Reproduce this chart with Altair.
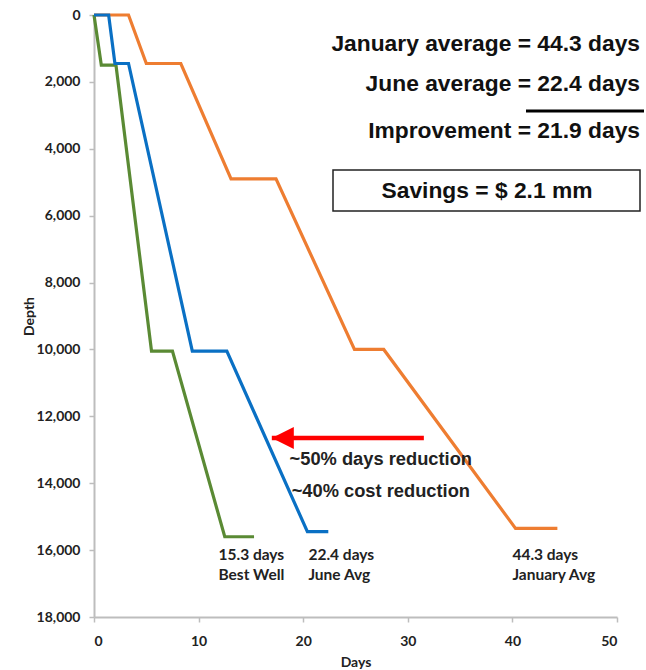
import altair as alt
import pandas as pd

# Drilling curves: days on the well vs. measured depth (ft)
jan_days = [0, 3.3, 5.0, 8.3, 13.1, 17.4, 24.9, 27.7, 40.3, 44.3]
jan_depth = [0, 0, 1450, 1450, 4900, 4900, 10000, 10000, 15350, 15350]

june_days = [0, 1.4, 2.0, 3.3, 9.4, 12.7, 20.4, 22.4]
june_depth = [0, 0, 1450, 1450, 10050, 10050, 15450, 15450]

best_days = [0, 0.7, 2.1, 5.5, 7.5, 12.5, 15.3]
best_depth = [0, 1500, 1500, 10050, 10050, 15600, 15600]

series_names = ["January Avg", "June Avg", "Best Well"]
series_colors = ["#EE7D31", "#0A70C4", "#5A8A34"]

y_ticks = list(range(0, 18001, 2000))
x_ticks = list(range(0, 51, 10))

# Reduction arrow (days, depth)
arrow_from, arrow_to, arrow_depth = 32.3, 17.0, 12650

# Summary lines shown in the upper right
summary_lines = ["January average = 44.3 days", "June average = 22.4 days",
                 "Improvement = 21.9 days"]
savings_line = "Savings = $ 2.1 mm"

W, H = 523, 602
ARIAL = "Liberation Sans"
CAL = "Lato"


def series_frame(name, days, depth):
    return pd.DataFrame({"well": name, "days": days, "depth": depth,
                         "idx": range(len(days))})


frames = {
    "January Avg": series_frame("January Avg", jan_days, jan_depth),
    "June Avg": series_frame("June Avg", june_days, june_depth),
    "Best Well": series_frame("Best Well", best_days, best_depth),
}

x_scale = alt.Scale(domain=[0, 50], nice=False)
y_scale = alt.Scale(domain=[0, 18000], reverse=True, nice=False)
color_scale = alt.Scale(domain=series_names, range=series_colors)

x_axis = alt.Axis(values=x_ticks, title="Days", grid=False,
                  labelExpr="format(datum.value, 'd')",
                  domainColor="#BDBDBD", domainWidth=2, tickColor="#BDBDBD",
                  tickWidth=1.5, tickSize=5, labelPadding=12,
                  labelFont=CAL, labelFontWeight="bold", labelFontSize=14,
                  labelColor="#222", titleFont=CAL, titleFontWeight="bold",
                  titleFontSize=14, titleColor="#222", titlePadding=7)
y_axis = alt.Axis(values=y_ticks, title="Depth", grid=False,
                  labelExpr="format(datum.value, ',')",
                  domainColor="#BDBDBD", domainWidth=2, tickColor="#BDBDBD",
                  tickWidth=1.5, tickSize=5, labelPadding=9,
                  labelFont=CAL, labelFontWeight="bold", labelFontSize=14,
                  labelColor="#222", titleFont=CAL, titleFontWeight="bold",
                  titleFontSize=14, titleColor="#222", titlePadding=0)


def X(field):
    return alt.X(field, scale=x_scale, axis=x_axis)


def Y(field):
    return alt.Y(field, scale=y_scale, axis=y_axis)


def curve(name):
    return alt.Chart(frames[name]).mark_line(strokeWidth=3.2, strokeJoin="miter").encode(
        x=X("days:Q"),
        y=Y("depth:Q"),
        color=alt.Color("well:N", scale=color_scale, legend=None),
        order="idx:Q",
    )


lines = curve("January Avg") + curve("Best Well") + curve("June Avg")

# Red arrow: shaft plus a left-pointing head
arrow_df = pd.DataFrame({"x0": [arrow_from], "x1": [arrow_to], "d": [arrow_depth]})
shaft = alt.Chart(arrow_df).mark_rule(color="#FF0000", strokeWidth=4.5, xOffset=-8).encode(
    x=X("x0:Q"), x2="x1:Q", y=Y("d:Q"),
)
head = alt.Chart(arrow_df).mark_point(
    shape="M-1,0L1,-1L1,1Z", size=484, filled=True, color="#FF0000",
    opacity=1, xOffset=11,
).encode(x=X("x1:Q"), y=Y("d:Q"))

# End-of-curve labels
end_labels = pd.DataFrame({
    "days": [11.9, 11.9, 20.5, 20.5, 40.0, 40.0],
    "depth": [16150, 16750, 16150, 16750, 16150, 16750],
    "txt": [f"{best_days[-1]} days", "Best Well",
            f"{june_days[-1]} days", "June Avg",
            f"{jan_days[-1]} days", "January Avg"],
})
end_text = alt.Chart(end_labels).mark_text(
    align="left", baseline="middle", font=CAL, fontWeight="bold",
    fontSize=15.5, color="#222",
).encode(x=X("days:Q"), y=Y("depth:Q"), text="txt:N")

reduction = pd.DataFrame({
    "days": [18.7, 18.9],
    "depth": [13300, 14260],
    "txt": ["~50% days reduction", "~40% cost reduction"],
})
reduction_text = alt.Chart(reduction).mark_text(
    align="left", baseline="middle", font=ARIAL, fontWeight="bold",
    fontSize=18.3, color="#222",
).encode(x=X("days:Q"), y=Y("depth:Q"), text="txt:N")

one_row = pd.DataFrame({"k": [0]})


def summary_text(txt, py):
    return alt.Chart(one_row).mark_text(
        align="right", baseline="middle", font=ARIAL, fontWeight="bold",
        fontSize=22.8, color="#111", text=txt,
    ).encode(x=alt.value(546), y=alt.value(py))


summary = (summary_text(summary_lines[0], 29)
           + summary_text(summary_lines[1], 69)
           + summary_text(summary_lines[2], 116))

total_rule = alt.Chart(one_row).mark_rule(
    color="#000", strokeWidth=3
).encode(x=alt.value(432), x2=alt.value(550), y=alt.value(96))

box = alt.Chart(one_row).mark_rect(
    fill="white", stroke="#222", strokeWidth=1.5
).encode(x=alt.value(239), x2=alt.value(546), y=alt.value(155), y2=alt.value(196))

savings = alt.Chart(one_row).mark_text(
    align="center", baseline="middle", font=ARIAL, fontWeight="bold",
    fontSize=22.8, color="#111", text=savings_line,
).encode(x=alt.value(393), y=alt.value(176))

chart = alt.layer(
    lines, shaft, head, end_text, reduction_text,
    summary, total_rule, box, savings,
).properties(
    width=W, height=H,
    autosize=alt.AutoSizeParams(type="none"),
    padding={"left": 94, "top": 15, "right": 646 - 94 - W, "bottom": 670 - 15 - H},
    background="white",
).configure_view(stroke=None)

chart.save("out.html", embed_options={"renderer": "svg", "actions": False})
